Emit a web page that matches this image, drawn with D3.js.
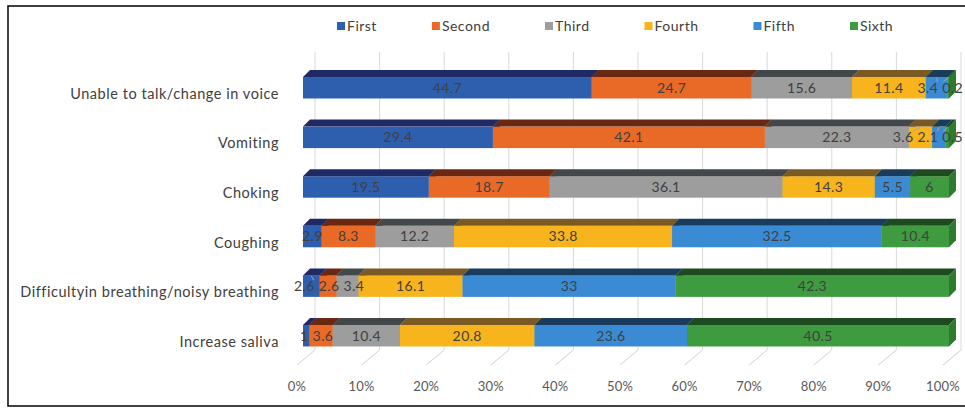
<!DOCTYPE html>
<html>
<head>
<meta charset="utf-8">
<script src="https://cdn.jsdelivr.net/npm/d3@7"></script>
<style>
  body { margin: 0; background: #fff; }
  svg { display: block; font-family: Lato, "Open Sans", sans-serif; }
</style>
</head>
<body>
<svg width="965" height="409"></svg>
<script>
let categories = ['Unable to talk/change in voice', 'Vomiting', 'Choking', 'Coughing',
                  'Difficultyin breathing/noisy breathing', 'Increase saliva']
let seriesNames = ['First', 'Second', 'Third', 'Fourth', 'Fifth', 'Sixth']
let first  = [44.7, 29.4, 19.5, 2.9, 2.6, 1]
let second = [24.7, 42.1, 18.7, 8.3, 2.6, 3.6]
let third  = [15.6, 22.3, 36.1, 12.2, 3.4, 10.4]
let fourth = [11.4, 3.6, 14.3, 33.8, 16.1, 20.8]
let fifth  = [3.4, 2.1, 5.5, 32.5, 33, 23.6]
let sixth  = [0.2, 0.5, 6, 10.4, 42.3, 40.5]
let ticks = [0, 10, 20, 30, 40, 50, 60, 70, 80, 90, 100]

let seriesValues = [first, second, third, fourth, fifth, sixth]
let frontColors = ['#2e5fae', '#e96a26', '#9d9d9d', '#f8b41c', '#3a8bd4', '#3f9b3f']
let topColors   = ['#1f2a64', '#6a2812', '#424749', '#7a5a22', '#193c5c', '#1e4a1f']
let sideColors  = ['#24498a', '#b04f1c', '#777777', '#c08c15', '#2b6aa3', '#2e7b2f']

let svg = d3.select('svg')

// outer frame
svg.append('rect')
    .attr('x', 8).attr('y', 6)
    .attr('width', 975).attr('height', 400)
    .attr('fill', 'none')
    .attr('stroke', '#111')
    .attr('stroke-width', 1.6)

// front floor scale
let xScale = d3.scaleLinear().domain([0, 100]).range([297, 943])
let depthX = 18, depthY = -15       // full depth of the 3D box
let barOffX = 6                     // bar front face from the front plane
let barDX = 7, barDY = -7           // bar depth

let yScale = d3.scaleBand()
                .domain(categories)
                .range([48.9, 374.6])
                .padding(0.567)

let floorY = 365

// back wall gridlines
svg.append('g')
  .selectAll('line')
  .data(ticks)
  .enter()
  .append('line')
    .attr('x1', d => xScale(d) + depthX)
    .attr('x2', d => xScale(d) + depthX)
    .attr('y1', 52)
    .attr('y2', floorY + depthY)
    .attr('stroke', '#d9d9d9')
    .attr('stroke-width', 1)

// floor lines
svg.append('g')
  .selectAll('line')
  .data(ticks)
  .enter()
  .append('line')
    .attr('x1', d => xScale(d) + depthX)
    .attr('x2', d => xScale(d))
    .attr('y1', floorY + depthY)
    .attr('y2', floorY)
    .attr('stroke', '#d0d0d0')
    .attr('stroke-width', 1)

// tick labels
svg.append('g')
  .selectAll('text')
  .data(ticks)
  .enter()
  .append('text')
    .attr('x', d => xScale(d))
    .attr('y', 386)
    .attr('dy', '0.35em')
    .style('text-anchor', 'middle')
    .style('font-size', '13px')
    .style('letter-spacing', '0.2px')
    .style('fill', '#595959')
    .text(d => d + '%')

// category labels
svg.append('g')
  .selectAll('text')
  .data(categories)
  .enter()
  .append('text')
    .attr('x', 279)
    .attr('y', d => yScale(d) + yScale.bandwidth() / 2 + 6)
    .attr('dy', '0.35em')
    .style('text-anchor', 'end')
    .style('font-size', '14.5px')
    .style('letter-spacing', '0.55px')
    .style('fill', '#404040')
    .text(d => d)

// stacked segments
let rows = categories.map((c, i) => {
  let total = d3.sum(seriesValues, s => s[i])
  let acc = 0
  return seriesValues.map((s, k) => {
    let v0 = acc / total * 100
    acc += s[i]
    return { cat: c, k: k, value: s[i], v0: v0, v1: acc / total * 100 }
  })
})

let bars = svg.append('g')
rows.forEach(row => {
  row.forEach(d => {
    let x0 = xScale(d.v0) + barOffX
    let x1 = xScale(d.v1) + barOffX
    let yt = yScale(d.cat)
    let yb = yt + yScale.bandwidth()
    let g = bars.append('g')
    g.append('rect')
        .attr('x', x0).attr('y', yt)
        .attr('width', Math.max(0, x1 - x0)).attr('height', yb - yt)
        .attr('fill', frontColors[d.k])
    g.append('path')
        .attr('d', `M${x0},${yt}L${x0 + barDX},${yt + barDY}L${x1 + barDX},${yt + barDY}L${x1},${yt}Z`)
        .attr('fill', topColors[d.k])
    g.append('path')
        .attr('d', `M${x1},${yt}L${x1 + barDX},${yt + barDY}L${x1 + barDX},${yb + barDY}L${x1},${yb}Z`)
        .attr('fill', sideColors[d.k])
  })
})

// data labels, spread apart where they collide
let labelLayer = svg.append('g')
let leaderLayer = svg.append('g')
let rightLimit = 963
rows.forEach(row => {
  let labels = row.map(d => {
    let cx = (xScale(d.v0) + xScale(d.v1)) / 2 + barOffX
    let t = labelLayer.append('text')
        .attr('y', yScale(d.cat) + yScale.bandwidth() / 2)
        .attr('dy', '0.35em')
        .style('text-anchor', 'middle')
        .style('font-size', '14px')
        .style('letter-spacing', '0.4px')
        .style('fill', '#404040')
        .text(d.value)
    return { t: t, cx: cx, x: cx, w: t.node().getComputedTextLength(), d: d }
  })
  for (let it = 0; it < 80; it++) {
    for (let j = 0; j < labels.length - 1; j++) {
      let a = labels[j], b = labels[j + 1]
      let need = (a.w + b.w) / 2 + 4
      let gap = b.x - a.x
      if (gap < need) {
        let push = (need - gap) / 2
        a.x -= push
        b.x += push
      }
    }
    labels.forEach(l => { l.x = Math.min(l.x, rightLimit - l.w / 2) })
  }
  labels.forEach(l => {
    l.t.attr('x', l.x)
    if (Math.abs(l.x - l.cx) > 4) {
      let yc = yScale(l.d.cat) + yScale.bandwidth() / 2
      let side = l.cx > l.x ? 1 : -1
      leaderLayer.append('line')
          .attr('x1', l.x + side * (l.w / 2 - 1))
          .attr('y1', yc - 6)
          .attr('x2', l.cx)
          .attr('y2', yc - 10)
          .attr('stroke', '#a6a6a6')
          .attr('stroke-width', 1)
    }
  })
})

// legend
let legend = svg.append('g')
let lx = 337
seriesNames.forEach((name, k) => {
  legend.append('rect')
      .attr('x', lx).attr('y', 22)
      .attr('width', 8).attr('height', 8)
      .attr('fill', frontColors[k])
  let t = legend.append('text')
      .attr('x', lx + 10)
      .attr('y', 26)
      .attr('dy', '0.35em')
      .style('font-size', '14px')
      .style('letter-spacing', '0.5px')
      .style('fill', '#404040')
      .text(name)
  lx += 10 + t.node().getComputedTextLength() + 55
})
</script>
</body>
</html>
